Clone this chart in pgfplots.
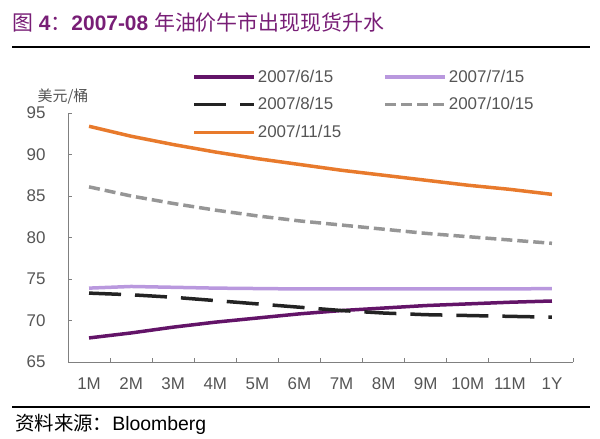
\documentclass[border=0pt]{standalone}
\usepackage{fontspec}
\setmainfont{Liberation Sans}
\newfontfamily\cjk{Noto Sans CJK SC}
\usepackage{pgfplots}
\pgfplotsset{compat=1.18}
\definecolor{dpurple}{RGB}{99,20,104}
\definecolor{lpurple}{RGB}{185,152,222}
\definecolor{dblack}{RGB}{35,35,35}
\definecolor{mgray}{RGB}{150,150,150}
\definecolor{corange}{RGB}{232,122,44}
\definecolor{tpurple}{RGB}{120,30,118}
\definecolor{txtgray}{RGB}{85,85,85}
\definecolor{axgray}{RGB}{128,128,128}
\begin{document}
\begin{tikzpicture}
\useasboundingbox (0bp,0bp) rectangle (600bp,439bp);
\node[anchor=west, text=tpurple, font=\fontsize{21}{24}\selectfont, inner sep=0] at (12bp,416bp)
  {{\cjk 图} \textbf{4}{\cjk ：}\textbf{2007-08} {\cjk 年油价牛市出现现货升水}};
\draw[black, line width=1.2bp] (12bp,392bp) -- (590bp,392bp);
\draw[black, line width=1.2bp] (12bp,32bp) -- (590bp,32bp);
\node[anchor=west, font=\fontsize{19.5}{22}\selectfont, inner sep=0] at (15bp,15bp)
  {{\cjk 资料来源：}Bloomberg};
\node[text=txtgray, font=\fontsize{15}{18}\selectfont\cjk, inner sep=0] at (63bp,342bp) {美元/桶};
\begin{axis}[
  at={(68bp,77bp)}, anchor=south west,
  scale only axis, width=505bp, height=249bp,
  xmin=0.5, xmax=12.5, ymin=65, ymax=95,
  axis x line=bottom, axis y line=left,
  axis line style={-, draw=axgray, line width=1bp},
  tick align=inside,
  xtick={1,...,12},
  xticklabels={1M,2M,3M,4M,5M,6M,7M,8M,9M,10M,11M,1Y},
  major x tick style={draw=none},
  minor xtick={0.5,1.5,...,12.5},
  minor tick length=4bp, major tick length=4bp,
  every tick/.style={draw=axgray, line width=1bp},
  ytick={65,70,...,95},
  tick label style={font=\fontsize{17}{19}\selectfont, text=txtgray},
  /pgf/number format/assume math mode=true,
  yticklabel style={xshift=-19bp},
  xticklabel style={yshift=-12bp},
  legend columns=2,
  legend cell align=left,
  legend style={draw=none, fill=none, at={(0.24,1.19)}, anchor=north west,
    font=\fontsize{17}{19}\selectfont, text=txtgray, row sep=10bp,
    /tikz/every even column/.append style={column sep=40bp}},
  legend image code/.code={\draw[#1] (0bp,0bp) -- (60bp,0bp);},
  clip=false,
]
\addplot[dpurple, line width=3.5bp] coordinates {
(1,67.9) (2,68.5) (3,69.2) (4,69.8) (5,70.3) (6,70.8) (7,71.2) (8,71.5) (9,71.8) (10,72.0) (11,72.2) (12,72.35)};
\addlegendentry{2007/6/15}
\addplot[lpurple, line width=3.5bp] coordinates {
(1,73.9) (2,74.1) (3,74.0) (4,73.9) (5,73.85) (6,73.8) (7,73.8) (8,73.8) (9,73.8) (10,73.8) (11,73.8) (12,73.85)};
\addlegendentry{2007/7/15}
\addplot[dblack, line width=3.5bp, dash pattern=on 32bp off 14bp] coordinates {
(1,73.3) (2,73.1) (3,72.8) (4,72.4) (5,72.0) (6,71.6) (7,71.2) (8,70.9) (9,70.7) (10,70.6) (11,70.5) (12,70.4)};
\addlegendentry{2007/8/15}
\addplot[mgray, line width=3.5bp, dash pattern=on 11bp off 5bp] coordinates {
(1,86.1) (2,85.0) (3,84.1) (4,83.3) (5,82.6) (6,82.0) (7,81.5) (8,81.0) (9,80.5) (10,80.1) (11,79.7) (12,79.3)};
\addlegendentry{2007/10/15}
\addplot[corange, line width=3.5bp] coordinates {
(1,93.4) (2,92.2) (3,91.2) (4,90.3) (5,89.5) (6,88.8) (7,88.1) (8,87.5) (9,86.9) (10,86.3) (11,85.8) (12,85.2)};
\addlegendentry{2007/11/15}
\end{axis}
\end{tikzpicture}
\end{document}
